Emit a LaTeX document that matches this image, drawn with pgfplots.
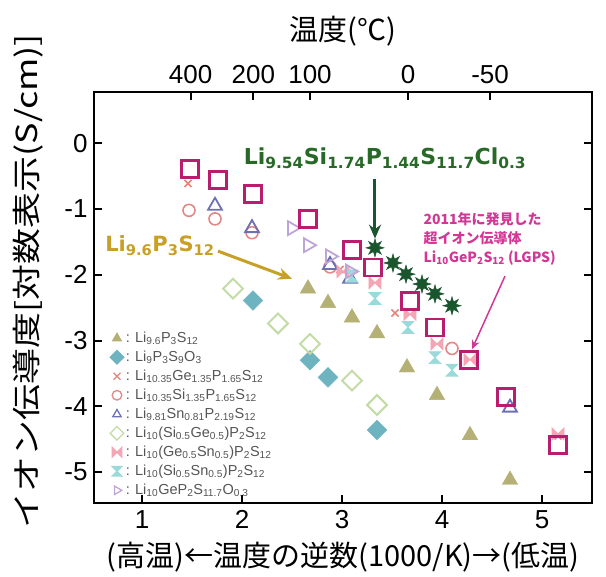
\documentclass[border=0pt]{standalone}
\usepackage{fontspec}
\setmainfont{Liberation Sans}
\newfontfamily\jp{Noto Sans CJK JP}
\newfontfamily\dv{DejaVu Sans}
\usepackage{graphicx}
\usepackage{pgfplots}
\pgfplotsset{compat=1.18}
\usetikzlibrary{arrows.meta}
\newcommand{\s}[1]{\textsubscript{#1}}
\definecolor{colOlive}{RGB}{181,176,118}
\definecolor{colTeal}{RGB}{110,180,192}
\definecolor{colRedX}{RGB}{235,130,120}
\definecolor{colCirc}{RGB}{228,135,135}
\definecolor{colBlue}{RGB}{110,112,180}
\definecolor{colLGreen}{RGB}{195,220,165}
\definecolor{colPink}{RGB}{245,165,180}
\definecolor{colCyan}{RGB}{155,218,218}
\definecolor{colLav}{RGB}{190,165,215}
\definecolor{colMag}{RGB}{185,30,110}
\definecolor{colDGreen}{RGB}{25,85,45}
\definecolor{colTitleGreen}{RGB}{40,105,40}
\definecolor{colGold}{RGB}{200,160,40}
\definecolor{colPinkTxt}{RGB}{210,55,150}
\definecolor{colLegTxt}{RGB}{85,85,85}
\pgfdeclareplotmark{bowtie}{%
  \pgfpathmoveto{\pgfqpoint{-\pgfplotmarksize}{\pgfplotmarksize}}%
  \pgfpathlineto{\pgfqpoint{\pgfplotmarksize}{-\pgfplotmarksize}}%
  \pgfpathlineto{\pgfqpoint{\pgfplotmarksize}{\pgfplotmarksize}}%
  \pgfpathlineto{\pgfqpoint{-\pgfplotmarksize}{-\pgfplotmarksize}}%
  \pgfpathclose\pgfusepathqfillstroke}
\pgfdeclareplotmark{hourglass}{%
  \pgfpathmoveto{\pgfqpoint{-\pgfplotmarksize}{\pgfplotmarksize}}%
  \pgfpathlineto{\pgfqpoint{\pgfplotmarksize}{\pgfplotmarksize}}%
  \pgfpathlineto{\pgfqpoint{-\pgfplotmarksize}{-\pgfplotmarksize}}%
  \pgfpathlineto{\pgfqpoint{\pgfplotmarksize}{-\pgfplotmarksize}}%
  \pgfpathclose\pgfusepathqfillstroke}
\pgfdeclareplotmark{star8}{%
  \pgfpathmoveto{\pgfqpointpolar{0}{\pgfplotmarksize}}%
  \pgfpathlineto{\pgfqpointpolar{22.5}{0.45\pgfplotmarksize}}%
  \pgfpathlineto{\pgfqpointpolar{45}{\pgfplotmarksize}}%
  \pgfpathlineto{\pgfqpointpolar{67.5}{0.45\pgfplotmarksize}}%
  \pgfpathlineto{\pgfqpointpolar{90}{\pgfplotmarksize}}%
  \pgfpathlineto{\pgfqpointpolar{112.5}{0.45\pgfplotmarksize}}%
  \pgfpathlineto{\pgfqpointpolar{135}{\pgfplotmarksize}}%
  \pgfpathlineto{\pgfqpointpolar{157.5}{0.45\pgfplotmarksize}}%
  \pgfpathlineto{\pgfqpointpolar{180}{\pgfplotmarksize}}%
  \pgfpathlineto{\pgfqpointpolar{202.5}{0.45\pgfplotmarksize}}%
  \pgfpathlineto{\pgfqpointpolar{225}{\pgfplotmarksize}}%
  \pgfpathlineto{\pgfqpointpolar{247.5}{0.45\pgfplotmarksize}}%
  \pgfpathlineto{\pgfqpointpolar{270}{\pgfplotmarksize}}%
  \pgfpathlineto{\pgfqpointpolar{292.5}{0.45\pgfplotmarksize}}%
  \pgfpathlineto{\pgfqpointpolar{315}{\pgfplotmarksize}}%
  \pgfpathlineto{\pgfqpointpolar{337.5}{0.45\pgfplotmarksize}}%
  \pgfpathclose\pgfusepathqfillstroke}
\begin{document}
\begin{tikzpicture}
\begin{axis}[
  scale only axis, width=498pt, height=411pt,
  xmin=0.52, xmax=5.5, ymin=-5.47, ymax=0.78,
  xtick={1,2,3,4,5}, ytick={-5,-4,-3,-2,-1,0},
  xtick pos=bottom, ytick pos=both,
  tick align=inside, major tick length=8pt,
  axis line style={line width=2.2pt},
  every tick/.style={black, line width=2pt},
  tick label style={font=\fontsize{26}{30}\selectfont},
  xticklabel style={yshift=-4pt},
  yticklabel style={xshift=-3pt},
  /pgf/number format/assume math mode=true,
  xlabel={(高温)←温度の逆数(1000/K)→(低温)},
  label style={font=\jp\fontsize{29}{34}\selectfont},
  xlabel style={yshift=-6pt},
  clip=false,
  legend style={at={(axis cs:0.68,-2.84)}, anchor=north west, draw=none, fill=none,
    font=\fontsize{14.5}{16}\selectfont, text=colLegTxt, row sep=3pt, inner sep=0pt},
  legend cell align=left,
  legend image post style={mark size=4.8pt, line width=1.3pt},
]
% Li9.6P3S12
\addplot[only marks, mark=triangle*, mark size=9pt, color=colOlive] coordinates {
(2.66,-2.21) (2.86,-2.43) (3.10,-2.65) (3.35,-2.89) (3.65,-3.41) (3.95,-3.83) (4.28,-4.44) (4.68,-5.12)};
\addlegendentry{: Li\s{9.6}P\s{3}S\s{12}}
% Li9P3S9O3
\addplot[only marks, mark=square*, mark size=7pt, mark options={rotate=45}, color=colTeal] coordinates {
(2.11,-2.39) (2.68,-3.30) (2.86,-3.56) (3.35,-4.36)};
\addlegendentry{: Li\s{9}P\s{3}S\s{9}O\s{3}}
% Li10.35Ge1.35P1.65S12
\addplot[only marks, mark=x, mark size=5pt, line width=1.6pt, color=colRedX] coordinates {
(1.46,-0.61) (2.98,-1.92) (3.53,-2.58) (5.16,-4.45)};
\addlegendentry{: Li\s{10.35}Ge\s{1.35}P\s{1.65}S\s{12}}
% Li10.35Si1.35P1.65S12
\addplot[only marks, mark=o, mark size=6pt, line width=1.6pt, color=colCirc] coordinates {
(1.47,-1.02) (1.73,-1.15) (2.10,-1.36) (2.88,-1.88) (4.10,-3.12)};
\addlegendentry{: Li\s{10.35}Si\s{1.35}P\s{1.65}S\s{12}}
% Li9.81Sn0.81P2.19S12
\addplot[only marks, mark=triangle, mark size=8pt, line width=1.8pt, color=colBlue] coordinates {
(1.73,-0.95) (2.10,-1.29) (2.88,-1.85) (3.08,-2.06) (4.68,-4.02)};
\addlegendentry{: Li\s{9.81}Sn\s{0.81}P\s{2.19}S\s{12}}
% Li10(Si0.5Ge0.5)P2S12
\addplot[only marks, mark=square, mark size=7pt, line width=2pt, mark options={rotate=45, fill=white}, color=colLGreen] coordinates {
(1.91,-2.21) (2.36,-2.74) (2.68,-3.05) (3.10,-3.61) (3.35,-3.98)};
\addlegendentry{: Li\s{10}(Si\s{0.5}Ge\s{0.5})P\s{2}S\s{12}}
% Li10(Ge0.5Sn0.5)P2S12
\addplot[only marks, mark=bowtie, mark size=6pt, line width=0.8pt, color=colPink, fill=colPink] coordinates {
(3.01,-1.95) (3.33,-2.12) (3.68,-2.60) (3.95,-3.05) (4.28,-3.29) (5.16,-4.42)};
\addlegendentry{: Li\s{10}(Ge\s{0.5}Sn\s{0.5})P\s{2}S\s{12}}
% Li10(Si0.5Sn0.5)P2S12
\addplot[only marks, mark=hourglass, mark size=6pt, line width=0.8pt, color=colCyan, fill=colCyan] coordinates {
(3.10,-2.02) (3.33,-2.36) (3.66,-2.80) (3.93,-3.26) (4.10,-3.45)};
\addlegendentry{: Li\s{10}(Si\s{0.5}Sn\s{0.5})P\s{2}S\s{12}}
% Li10GeP2S11.7O0.3
\addplot[only marks, mark=triangle, mark size=8pt, line width=1.8pt, mark options={rotate=-90}, color=colLav] coordinates {
(2.50,-1.29) (2.66,-1.55) (2.88,-1.72) (3.08,-1.95)};
\addlegendentry{: Li\s{10}GeP\s{2}S\s{11.7}O\s{0.3}}
% LGPS
\addplot[forget plot, only marks, mark=square, mark size=8.5pt, line width=2.8pt, mark options={fill=white}, color=colMag] coordinates {
(1.48,-0.39) (1.76,-0.56) (2.11,-0.77) (2.66,-1.15) (3.10,-1.62) (3.31,-1.89) (3.68,-2.40) (3.93,-2.80) (4.27,-3.29) (4.64,-3.86) (5.16,-4.59)};
% Li9.54Si1.74P1.44S11.7Cl0.3
\addplot[forget plot, only marks, mark=star8, mark size=9pt, line width=0.5pt, color=colDGreen, fill=colDGreen] coordinates {
(3.33,-1.59) (3.51,-1.82) (3.64,-1.99) (3.80,-2.14) (3.93,-2.29) (4.10,-2.47)};
% y label
\node[font=\jp\fontsize{29}{34}\selectfont, rotate=90, anchor=center] at (rel axis cs:-0.133,0.54) {\scalebox{1.24}[1]{イオン伝導度[対数表示(S/cm)]}};
% annotations
\node[font=\dv\bfseries\fontsize{22}{26}\selectfont, text=colTitleGreen] at (axis cs:3.43,-0.23) {Li\s{9.54}Si\s{1.74}P\s{1.44}S\s{11.7}Cl\s{0.3}};
\draw[-{Stealth[length=14pt,width=12pt]}, line width=3pt, colDGreen] (axis cs:3.33,-0.55) -- (axis cs:3.33,-1.45);
\node[font=\dv\bfseries\fontsize{21}{25}\selectfont, text=colGold] at (axis cs:1.18,-1.56) {Li\s{9.6}P\s{3}S\s{12}};
\draw[-{Stealth[length=14pt,width=12pt]}, line width=3pt, colGold] (axis cs:1.76,-1.64) -- (axis cs:2.50,-2.06);
\node[font=\jp\bfseries\fontsize{14}{19}\selectfont, text=colPinkTxt, align=left, anchor=west] at (axis cs:3.78,-1.45) {2011年に発見した\\超イオン伝導体\\Li\s{10}GeP\s{2}S\s{12} (LGPS)};
\draw[-{Stealth[length=9pt,width=8pt]}, line width=1.5pt, colPinkTxt] (axis cs:4.63,-2.02) -- (axis cs:4.30,-3.13);
\end{axis}
\begin{axis}[
  scale only axis, width=498pt, height=411pt,
  xmin=0.52, xmax=5.5, ymin=0, ymax=1,
  axis x line*=top, hide y axis,
  axis line style={line width=2.2pt},
  xtick={1.4857,2.1135,2.680,3.661,4.481},
  xticklabels={400,200,100,0,-50},
  tick align=inside, major tick length=8pt,
  every tick/.style={black, line width=2pt},
  tick label style={font=\fontsize{26}{30}\selectfont},
  xticklabel style={yshift=5pt},
  xlabel={温度(℃)},
  label style={font=\jp\fontsize{29}{34}\selectfont},
  xlabel style={yshift=12pt},
]
\end{axis}
\path (-94pt,-74pt) rectangle (512pt,503pt);
\end{tikzpicture}
\end{document}
